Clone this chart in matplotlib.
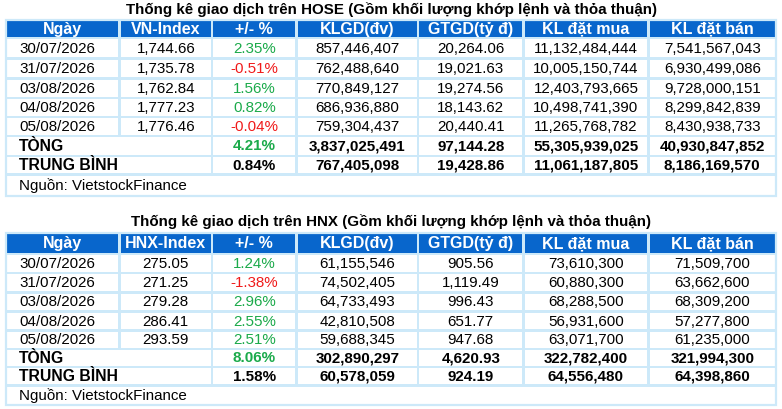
import matplotlib
matplotlib.use("Agg")
import matplotlib.pyplot as plt
from matplotlib.patches import Rectangle

plt.rcParams['font.family'] = ['Liberation Sans', 'DejaVu Sans']

# ---------------- data ----------------
hose_title = "Thống kê giao dịch trên HOSE (Gồm khối lượng khớp lệnh và thỏa thuận)"
hose_headers = ["Ngày", "VN-Index", "+/- %", "KLGD(đv)", "GTGD(tỷ đ)", "KL đặt mua", "KL đặt bán"]
hose_dates = ["30/07/2026", "31/07/2026", "03/08/2026", "04/08/2026", "05/08/2026"]
hose_index = ["1,744.66", "1,735.78", "1,762.84", "1,777.23", "1,776.46"]
hose_pct = [2.35, -0.51, 1.56, 0.82, -0.04]
hose_klgd = ["857,446,407", "762,488,640", "770,849,127", "686,936,880", "759,304,437"]
hose_gtgd = ["20,264.06", "19,021.63", "19,274.56", "18,143.62", "20,440.41"]
hose_mua = ["11,132,484,444", "10,005,150,744", "12,403,793,665", "10,498,741,390", "11,265,768,782"]
hose_ban = ["7,541,567,043", "6,930,499,086", "9,728,000,151", "8,299,842,839", "8,430,938,733"]
hose_total = [4.21, "3,837,025,491", "97,144.28", "55,305,939,025", "40,930,847,852"]
hose_avg = [0.84, "767,405,098", "19,428.86", "11,061,187,805", "8,186,169,570"]

hnx_title = "Thống kê giao dịch trên HNX (Gồm khối lượng khớp lệnh và thỏa thuận)"
hnx_headers = ["Ngày", "HNX-Index", "+/- %", "KLGD(đv)", "GTGD(tỷ đ)", "KL đặt mua", "KL đặt bán"]
hnx_dates = ["30/07/2026", "31/07/2026", "03/08/2026", "04/08/2026", "05/08/2026"]
hnx_index = ["275.05", "271.25", "279.28", "286.41", "293.59"]
hnx_pct = [1.24, -1.38, 2.96, 2.55, 2.51]
hnx_klgd = ["61,155,546", "74,502,405", "64,733,493", "42,810,508", "59,688,345"]
hnx_gtgd = ["905.56", "1,119.49", "996.43", "651.77", "947.68"]
hnx_mua = ["73,610,300", "60,880,300", "68,288,500", "56,931,600", "63,071,700"]
hnx_ban = ["71,509,700", "63,662,600", "68,309,200", "57,277,800", "61,235,000"]
hnx_total = [8.06, "302,890,297", "4,620.93", "322,782,400", "321,994,300"]
hnx_avg = [1.58, "60,578,059", "924.19", "64,556,480", "64,398,860"]

total_label = "TÒNG"
avg_label = "TRUNG BÌNH"
source_label = "Nguồn: VietstockFinance"

# ---------------- style ----------------
W, H = 782, 409
BLUE = "#0866CC"
GRID = "#CDE9F9"
GREEN = "#1BAA4A"
RED = "#F01A1A"
FS = 10.9

col_edges = [6, 119.5, 212, 296.5, 418, 523.5, 648.5, 776]

fig = plt.figure(figsize=(W / 100, H / 100), dpi=100)
ax = fig.add_axes([0, 0, 1, 1])
ax.set_xlim(0, W)
ax.set_ylim(H, 0)
ax.axis("off")


def cell(x0, x1, y0, y1, color):
    g = 1.2
    ax.add_patch(Rectangle((x0 + g, y0 + g), (x1 - x0) - 2 * g, (y1 - y0) - 2 * g,
                           facecolor=color, edgecolor="none", zorder=2))


def pct_txt(v):
    return f"{v:.2f}%"


def draw_table(title, title_y, headers, dates, index, pct, klgd, gtgd, mua, ban,
               total, avg, row_edges):
    ax.text((col_edges[0] + col_edges[-1]) / 2, title_y, title, ha="center", va="center",
            fontsize=FS, fontweight="bold", color="black")
    top, bottom = row_edges[0], row_edges[-1]
    ax.add_patch(Rectangle((col_edges[0], top), col_edges[-1] - col_edges[0], bottom - top,
                           facecolor=GRID, edgecolor="none", zorder=1))
    # header
    y0, y1 = row_edges[0], row_edges[1]
    for j, h in enumerate(headers):
        cell(col_edges[j], col_edges[j + 1], y0, y1, BLUE)
        ax.text((col_edges[j] + col_edges[j + 1]) / 2, (y0 + y1) / 2 + 0.5, h, ha="center",
                va="center", fontsize=FS + 0.6, fontweight="bold", color="white", zorder=3)
    # data rows
    for i in range(len(dates)):
        y0, y1 = row_edges[i + 1], row_edges[i + 2]
        yc = (y0 + y1) / 2 + 0.5
        vals = [dates[i], index[i], pct_txt(pct[i]), klgd[i], gtgd[i], mua[i], ban[i]]
        for j, v in enumerate(vals):
            cell(col_edges[j], col_edges[j + 1], y0, y1, "white")
            color = "black"
            if j == 2:
                color = GREEN if pct[i] >= 0 else RED
            if j == 0:
                ax.text(col_edges[0] + 13, yc, v, ha="left", va="center", fontsize=FS,
                        color=color, zorder=3)
            else:
                ax.text((col_edges[j] + col_edges[j + 1]) / 2, yc, v, ha="center",
                        va="center", fontsize=FS, color=color, zorder=3)
    # total and average rows
    n = len(dates)
    for k, (lab, row) in enumerate([(total_label, total), (avg_label, avg)]):
        y0, y1 = row_edges[n + 1 + k], row_edges[n + 2 + k]
        yc = (y0 + y1) / 2 + 0.5
        cell(col_edges[0], col_edges[2], y0, y1, "white")
        ax.text(col_edges[0] + 13, yc, lab, ha="left", va="center", fontsize=FS + 0.4,
                fontweight="bold", color="black", zorder=3)
        for j in range(2, 7):
            cell(col_edges[j], col_edges[j + 1], y0, y1, "white")
            v = row[j - 2]
            color = "black"
            if j == 2:
                txt = pct_txt(v)
                if k == 0:
                    color = GREEN if v >= 0 else RED
            else:
                txt = v
            ax.text((col_edges[j] + col_edges[j + 1]) / 2, yc, txt, ha="center", va="center",
                    fontsize=FS, fontweight="bold", color=color, zorder=3)
    # source row
    y0, y1 = row_edges[n + 3], row_edges[n + 4]
    cell(col_edges[0], col_edges[-1], y0, y1, "white")
    ax.text(col_edges[0] + 13, (y0 + y1) / 2 + 0.5, source_label, ha="left", va="center",
            fontsize=FS, color="black", zorder=3)
    # thicker outer border
    ax.add_patch(Rectangle((col_edges[0], top), col_edges[-1] - col_edges[0], bottom - top,
                           facecolor="none", edgecolor=GRID, linewidth=1.6, zorder=4))


hose_rows = [19.5, 38, 58.5, 78.5, 98, 117, 136, 156, 174.5, 196]
hnx_rows = [232.5, 254, 273, 292.5, 311.5, 330.5, 349, 367, 385.5, 405]

draw_table(hose_title, 10, hose_headers, hose_dates, hose_index, hose_pct, hose_klgd,
           hose_gtgd, hose_mua, hose_ban, hose_total, hose_avg, hose_rows)
draw_table(hnx_title, 222, hnx_headers, hnx_dates, hnx_index, hnx_pct, hnx_klgd,
           hnx_gtgd, hnx_mua, hnx_ban, hnx_total, hnx_avg, hnx_rows)

fig.savefig("out.png", dpi=100, facecolor="white")
